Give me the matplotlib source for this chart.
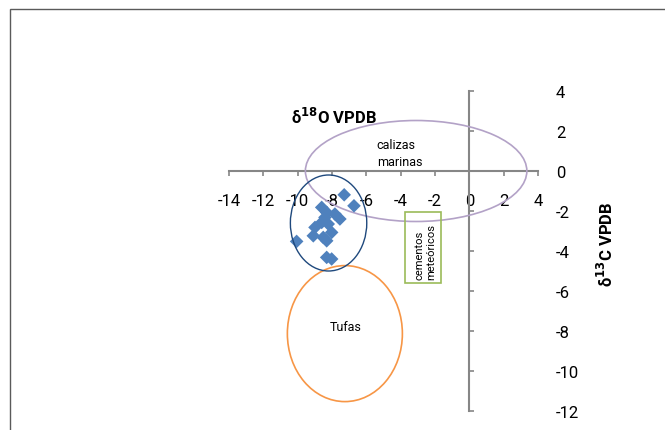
import matplotlib
matplotlib.use("Agg")
import matplotlib.pyplot as plt
from matplotlib.patches import Ellipse, Rectangle

plt.rcParams['font.family'] = ['Roboto', 'DejaVu Sans']

# data
d18O = [-7.29, -6.72, -8.60, -8.31, -7.83, -7.54, -8.41, -8.60, -8.22,
        -8.99, -8.02, -9.09, -8.51, -8.31, -10.06, -8.31, -8.02]
d13C = [-1.19, -1.74, -1.82, -2.07, -2.15, -2.40, -2.32, -2.57, -2.65,
        -2.82, -3.07, -3.24, -3.32, -3.49, -3.52, -4.32, -4.40]
xticks = list(range(-14, 5, 2))
yticks = list(range(-12, 5, 2))

# fields: (center x, center y, width, height)
calizas = (-3.1, 0.0, 12.9, 5.05)
grupo = (-8.2, -2.6, 4.45, 4.8)
tufas = (-7.25, -8.13, 6.7, 6.8)
cementos_box = (-3.73, -5.6, 2.06, 3.53)

W, H = 665, 431
fig = plt.figure(figsize=(W / 100, H / 100), dpi=100)
ax = fig.add_axes([229 / W, 1 - 412 / H, 309 / W, 320 / H])
ax.set_xlim(-14, 4)
ax.set_ylim(-12, 4)

axis_col = '#868686'
ax.spines['left'].set_position(('data', 0))
ax.spines['bottom'].set_position(('data', 0))
ax.spines['right'].set_visible(False)
ax.spines['top'].set_visible(False)
for s in ('left', 'bottom'):
    ax.spines[s].set_color(axis_col)
    ax.spines[s].set_linewidth(1.5)

ax.set_xticks(xticks)
ax.set_yticks(yticks)
ax.tick_params(axis='x', direction='out', length=3.6, width=1.2, color=axis_col,
               pad=12, labelsize=12, labelcolor='black')
ax.tick_params(axis='y', direction='in', length=3.6, width=1.2, color=axis_col,
               left=True, right=False, labelleft=False, labelright=True,
               pad=13, labelsize=12, labelcolor='black')
for lab in ax.get_yticklabels():
    lab.set_horizontalalignment('left')
ax.xaxis.set_major_formatter(matplotlib.ticker.FuncFormatter(lambda v, p: f"{int(v)}"))
ax.yaxis.set_major_formatter(matplotlib.ticker.FuncFormatter(lambda v, p: f"{int(v)}"))

# fields
ax.add_patch(Ellipse(calizas[:2], calizas[2], calizas[3], fill=False,
                     edgecolor='#B3A2C7', lw=1.2, zorder=3))
ax.add_patch(Ellipse(tufas[:2], tufas[2], tufas[3], fill=False,
                     edgecolor='#F79646', lw=1.2, zorder=3))
ax.add_patch(Rectangle(cementos_box[:2], cementos_box[2], cementos_box[3], fill=False,
                       edgecolor='#9BBB59', lw=1.2, zorder=3))

ax.scatter(d18O, d13C, marker='D', s=48, color='#4F81BD', edgecolors='none', zorder=4)

ax.add_patch(Ellipse(grupo[:2], grupo[2], grupo[3], fill=False,
                     edgecolor='#1F497D', lw=1.0, zorder=5))

ax.text(-5.4, 0.9, "calizas\nmarinas", fontsize=9, ha='left', va='center',
        linespacing=1.35)
ax.text(-7.2, -7.78, "Tufas", fontsize=9, ha='center', va='center')
ax.text(-2.56, -5.4, "cementos\nmeteóricos", fontsize=8, rotation=90,
        ha='center', va='bottom', multialignment='left', linespacing=1.1)

for lab in ax.get_xticklabels() + ax.get_yticklabels():
    lab.set_clip_on(False)

fig.text(334 / W, 1 - 117 / H, r"δ$^{\mathbf{18}}$O VPDB", fontsize=12, fontweight='bold',
         ha='center', va='center')
fig.text(606 / W, 1 - 244 / H, r"δ$^{\mathbf{13}}$C VPDB", fontsize=12, fontweight='bold',
         ha='center', va='center', rotation=90)

# chart area border
fig.patches.append(Rectangle((10 / W, -0.2), 1.5, 1.2 - 10 / H, transform=fig.transFigure,
                             fill=False, edgecolor='#5a5a5a', lw=1.0))

fig.savefig("out.png", dpi=100)
